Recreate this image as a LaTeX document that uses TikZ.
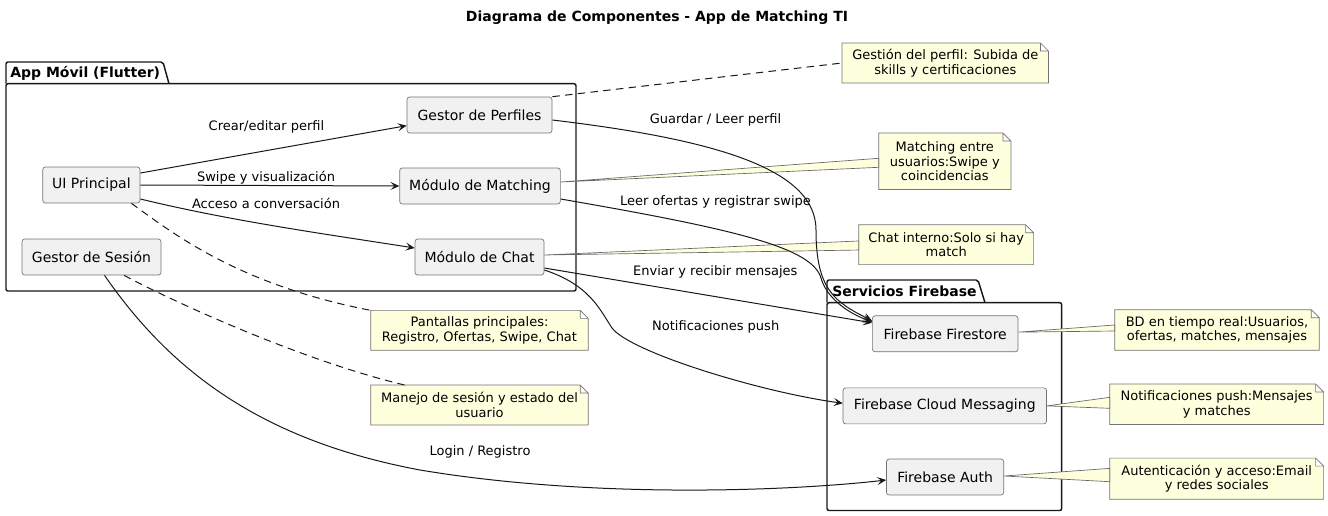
\documentclass[tikz,border=0pt]{standalone}
\usepackage{fontspec}
\setmainfont{DejaVu Sans}
\usetikzlibrary{arrows.meta,backgrounds}
\definecolor{compfill}{HTML}{F1F1F1}
\definecolor{notefill}{HTML}{FEFFDD}
\definecolor{linecol}{HTML}{181818}
\begin{document}
\begin{tikzpicture}[x=.75pt, y=-.75pt,
	comp/.style={draw=black!55, fill=compfill, line width=.5pt, rounded corners=2pt, minimum height=27pt, inner sep=0pt, font=\fontsize{10.5}{12}\selectfont},
	nota/.style={inner sep=0pt, align=center, font=\fontsize{9.75}{11}\selectfont},
	notaborde/.style={draw=black!55, fill=notefill, line width=.5pt},
	lbl/.style={inner sep=0pt, font=\fontsize{9.75}{11}\selectfont},
	pkg/.style={inner sep=0pt, anchor=west, font=\bfseries\fontsize{10.5}{12}\selectfont},
	pkgline/.style={draw=linecol, line width=1.1pt, rounded corners=1.5pt},
	flecha/.style={draw=linecol, line width=.75pt, -{Stealth[length=6.75pt, width=6pt, inset=3pt]}},
	enlace/.style={draw=linecol, line width=.75pt, dash pattern=on 5.6pt off 4pt},
	cuna/.style={draw=black!60, fill=notefill, line width=.5pt}]
	\useasboundingbox (0,0) rectangle (1328,515);

	\node[font=\bfseries\fontsize{10.5}{12}\selectfont] (titulo) at (657,18) {Diagrama de Componentes - App de Matching TI};

	% componentes
	\node[comp, minimum width=73pt] (ui) at (91.4,185) {UI Principal};
	\node[comp, minimum width=104.25pt] (ses) at (91.5,257) {Gestor de Sesión};
	\node[comp, minimum width=108.75pt] (perf) at (479.5,115) {Gestor de Perfiles};
	\node[comp, minimum width=120.5pt] (match) at (480,186) {Módulo de Matching};
	\node[comp, minimum width=96.75pt] (chat) at (479.5,257) {Módulo de Chat};
	\node[comp, minimum width=109.2pt] (fs) at (945.2,333.8) {Firebase Firestore};
	\node[comp, minimum width=152.6pt] (fcm) at (944.8,405.9) {Firebase Cloud Messaging};
	\node[comp, minimum width=87.9pt] (auth) at (945.1,477) {Firebase Auth};

	% notas
	\node[nota, minimum width=154.5pt, minimum height=29.5pt] (gest) at (945.3,63) {Gestión del perfil: Subida de\\skills y certificaciones};
	\node[nota, minimum width=98.8pt, minimum height=42pt] (mnote) at (944.8,161.3) {Matching entre\\usuarios:Swipe y\\coincidencias};
	\node[nota, minimum width=130.7pt, minimum height=29.5pt] (chatn) at (946.2,244.7) {Chat interno:Solo si hay\\match};
	\node[nota, minimum width=162.75pt, minimum height=29.5pt] (pant) at (479.5,330.3) {Pantallas principales:\\Registro, Ofertas, Swipe, Chat};
	\node[nota, minimum width=162.75pt, minimum height=29.5pt] (manejo) at (479.5,405) {Manejo de sesión y estado del\\usuario};
	\node[nota, minimum width=153pt, minimum height=30pt] (bdn) at (1217,330) {BD en tiempo real:Usuarios,\\ofertas, matches, mensajes};
	\node[nota, minimum width=160pt, minimum height=30pt] (notif) at (1216.7,404.3) {Notificaciones push:Mensajes\\y matches};
	\node[nota, minimum width=160pt, minimum height=30.5pt] (authn) at (1216.7,478.7) {Autenticación y acceso:Email\\y redes sociales};

	\node[pkg] (papp) at (10,73) {App Móvil (Flutter)};
	\node[pkg] (pfb) at (832,291) {Servicios Firebase};

	\begin{scope}[on background layer]
		\draw[pkgline, fill=white] (6,83.7) |- (163,62) -- (169,83.7);
		\draw[pkgline] (6,83.7) rectangle (576,291);
		\draw[pkgline, fill=white] (827,302.7) |- (978,280) -- (985,302.7);
		\draw[pkgline] (827,302.7) rectangle (1061.7,510.5);
		\foreach \n in {gest,mnote,chatn,pant,manejo,bdn,notif,authn}
			\draw[notaborde] (\n.north west) -- ([xshift=-6pt]\n.north east) -- ([yshift=-6pt]\n.north east) -- (\n.south east) -- (\n.south west) -- cycle
				([xshift=-6pt]\n.north east) |- ([yshift=-6pt]\n.north east);
	\end{scope}

	% uniones de notas
	\foreach \c/\n/\p/\u/\v in {match/mnote/3/2.25/-4.5, chat/chatn/1.5/2.8/-4, fs/bdn/1.25/3.75/-.75, fcm/notif/0/5.25/-3, auth/authn/.75/7.75/-2.25}
		\draw[cuna] ([yshift=\p pt]\c.east) -- ([yshift=\u pt]\n.west) -- ([yshift=\v pt]\n.west) -- cycle;
	\draw[enlace] (perf.north east) -- (gest.west);
	\draw[enlace] ([xshift=30pt]ui.south) .. controls (175,235) and (240,285) .. (pant.north west);
	\draw[enlace] ([xshift=24.4pt]ses.south) .. controls (170,300) and (300,360) .. ([xshift=25.5pt]manejo.north west);

	% flechas
	\draw[flecha] ([yshift=9pt]ui.east) -- ([yshift=-8pt]perf.west);
	\draw[flecha] (ui.east) -- (match.west);
	\draw[flecha] ([yshift=-10.5pt]ui.east) .. controls (231,221) and (325,234) .. ([yshift=6.75pt]chat.west);
	\draw[flecha] ([yshift=-3.75pt]perf.east) .. controls (720,140) and (816,170) .. (816,230) .. controls (816,290) and (835,302) .. ([yshift=9.75pt]fs.west);
	\draw[flecha] ([yshift=-9.75pt]match.east) .. controls (740,230) and (812,248) .. (821,278) .. controls (826,296) and (845,312) .. ([yshift=9pt]fs.west);
	\draw[flecha] ([yshift=-8.25pt]chat.east) -- ([yshift=8.25pt]fs.west);
	\draw[flecha] ([yshift=-9.75pt]chat.east) .. controls (590,285) and (600,310) .. (612,328) .. controls (630,352) and (760,392) .. ([yshift=2pt]fcm.west);
	\draw[flecha] ([xshift=9.75pt]ses.south) .. controls (170,370) and (260,440) .. (420,470) .. controls (600,500) and (800,490) .. ([yshift=-2.25pt]auth.west);

	% etiquetas
	\node[lbl] (l1) at (266.5,127) {Crear/editar perfil};
	\node[lbl] (l2) at (266,178) {Swipe y visualización};
	\node[lbl] (l3) at (266,203) {Acceso a conversación};
	\node[lbl] (l4) at (715.5,120) {Guardar / Leer perfil};
	\node[lbl] (l5) at (715.5,201.7) {Leer ofertas y registrar swipe};
	\node[lbl] (l6) at (715.3,272.3) {Enviar y recibir mensajes};
	\node[lbl] (l7) at (715.7,327.3) {Notificaciones push};
	\node[lbl] (l8) at (480,452) {Login / Registro};
\end{tikzpicture}
\end{document}
